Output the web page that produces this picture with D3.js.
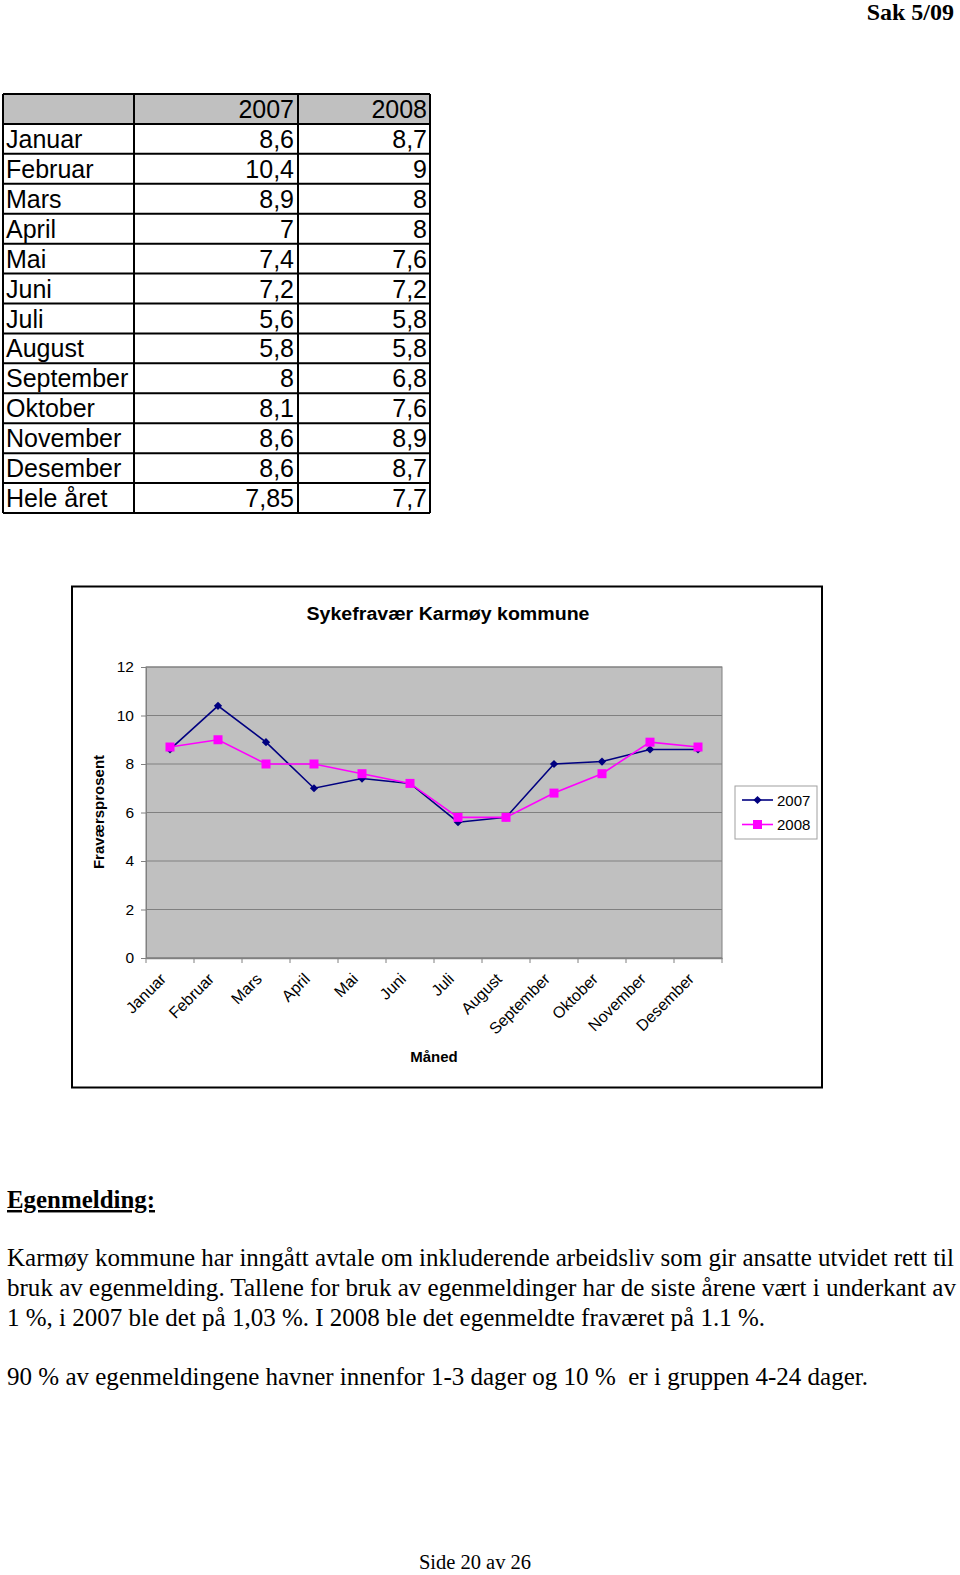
<!DOCTYPE html>
<html>
<head>
<meta charset="utf-8">
<script src="https://cdn.jsdelivr.net/npm/d3@7"></script>
<style>
  html, body { margin: 0; padding: 0; background: #fff; }
  svg { display: block; }
</style>
</head>
<body>
<script>
// ---------- DATA ----------
const months = ["Januar","Februar","Mars","April","Mai","Juni","Juli","August","September","Oktober","November","Desember"];
const values2007 = [8.6, 10.4, 8.9, 7, 7.4, 7.2, 5.6, 5.8, 8, 8.1, 8.6, 8.6];
const values2008 = [8.7, 9, 8, 8, 7.6, 7.2, 5.8, 5.8, 6.8, 7.6, 8.9, 8.7];
const annualLabel = "Hele året";
const annual2007 = 7.85;
const annual2008 = 7.7;
const seriesNames = ["2007", "2008"];
const yTicks = [0, 2, 4, 6, 8, 10, 12];

const chartTitle = "Sykefravær Karmøy kommune";
const yAxisTitle = "Fraværsprosent";
const xAxisTitle = "Måned";

const headerText = "Sak 5/09";
const sectionTitle = "Egenmelding:";
const paragraphLines = [
  "Karmøy kommune har inngått avtale om inkluderende arbeidsliv som gir ansatte utvidet rett til",
  "bruk av egenmelding. Tallene for bruk av egenmeldinger har de siste årene vært i underkant av",
  "1 %, i 2007 ble det på 1,03 %. I 2008 ble det egenmeldte fraværet på 1.1 %."
];
const paragraph2 = "90 % av egenmeldingene havner innenfor 1-3 dager og 10 %  er i gruppen 4-24 dager.";
const footerText = "Side 20 av 26";

// ---------- SETUP ----------
const W = 960, H = 1575;
const svg = d3.select("body").append("svg").attr("width", W).attr("height", H);
const sans = "'Liberation Sans', Arial, sans-serif";
const serif = "'Liberation Serif', 'Times New Roman', serif";
const fmt = v => String(v).replace(".", ",");

// ---------- HEADER ----------
svg.append("text").attr("x", 954).attr("y", 20).attr("text-anchor", "end")
  .attr("font-family", serif).attr("font-weight", "bold").attr("font-size", 24)
  .text(headerText);

// ---------- TABLE ----------
const tableRows = [{label: "", a: seriesNames[0], b: seriesNames[1], header: true}]
  .concat(months.map((m, i) => ({label: m, a: fmt(values2007[i]), b: fmt(values2008[i])})))
  .concat([{label: annualLabel, a: fmt(annual2007), b: fmt(annual2008)}]);
const colEdges = [3, 134, 298, 430];
const rowScale = d3.scaleBand().domain(d3.range(tableRows.length)).range([94, 513]);
const tg = svg.append("g");
tg.append("rect").attr("x", colEdges[0]).attr("y", rowScale(0))
  .attr("width", colEdges[3] - colEdges[0]).attr("height", rowScale.bandwidth())
  .attr("fill", "#c0c0c0");
const rowsG = tg.selectAll("g.row").data(tableRows).join("g").attr("class", "row")
  .attr("transform", (d, i) => `translate(0,${rowScale(i)})`);
rowsG.append("text").attr("x", colEdges[0] + 3).attr("y", 24)
  .attr("font-family", sans).attr("font-size", 25).text(d => d.label);
rowsG.append("text").attr("x", colEdges[2] - 4).attr("y", 24).attr("text-anchor", "end")
  .attr("font-family", sans).attr("font-size", 25).text(d => d.a);
rowsG.append("text").attr("x", colEdges[3] - 3).attr("y", 24).attr("text-anchor", "end")
  .attr("font-family", sans).attr("font-size", 25).text(d => d.b);
// grid lines
d3.range(tableRows.length + 1).forEach(i => {
  const y = i < tableRows.length ? rowScale(i) : rowScale(tableRows.length - 1) + rowScale.bandwidth();
  tg.append("line").attr("x1", colEdges[0]).attr("x2", colEdges[3]).attr("y1", y).attr("y2", y)
    .attr("stroke", "#000").attr("stroke-width", 2);
});
colEdges.forEach(x => {
  tg.append("line").attr("x1", x).attr("x2", x).attr("y1", 94).attr("y2", 513)
    .attr("stroke", "#000").attr("stroke-width", 2);
});

// ---------- CHART ----------
const box = {x: 72, y: 586.5, w: 750, h: 501};
svg.append("rect").attr("x", box.x).attr("y", box.y).attr("width", box.w).attr("height", box.h)
  .attr("fill", "#fff").attr("stroke", "#000").attr("stroke-width", 2);

svg.append("text").attr("x", 448).attr("y", 620).attr("text-anchor", "middle")
  .attr("font-family", sans).attr("font-weight", "bold").attr("font-size", 18)
  .attr("textLength", 283).attr("lengthAdjust", "spacingAndGlyphs")
  .text(chartTitle);

const plot = {left: 146, right: 722, top: 667, bottom: 958};
const x = d3.scaleBand().domain(months).range([plot.left, plot.right]);
const y = d3.scaleLinear().domain([0, 12]).range([plot.bottom, plot.top]);

const pg = svg.append("g");
pg.append("rect").attr("x", plot.left).attr("y", plot.top)
  .attr("width", plot.right - plot.left).attr("height", plot.bottom - plot.top)
  .attr("fill", "#c0c0c0").attr("stroke", "#808080").attr("stroke-width", 1);

// gridlines
pg.selectAll("line.grid").data(yTicks).join("line").attr("class", "grid")
  .attr("x1", plot.left).attr("x2", plot.right)
  .attr("y1", d => y(d)).attr("y2", d => y(d))
  .attr("stroke", "#808080").attr("stroke-width", 1);

// y axis
const yAxis = d3.axisLeft(y).tickValues(yTicks).tickSize(5).tickPadding(7);
const yg = svg.append("g").attr("transform", `translate(${plot.left},0)`).call(yAxis);
yg.select(".domain").attr("stroke", "#808080");
yg.selectAll(".tick line").attr("stroke", "#808080");
yg.selectAll(".tick text").attr("font-family", sans).attr("font-size", 15.5).attr("fill", "#000");

// x axis
const xAxis = d3.axisBottom(x).tickSize(0).tickFormat("");
const xg = svg.append("g").attr("transform", `translate(0,${plot.bottom})`).call(xAxis);
xg.select(".domain").attr("stroke", "#808080").attr("stroke-width", 1.5);
const boundaries = months.map(m => x(m)).concat([plot.right]);
xg.selectAll("line.btick").data(boundaries).join("line").attr("class", "btick")
  .attr("x1", d => d).attr("x2", d => d).attr("y1", 0).attr("y2", 5)
  .attr("stroke", "#808080");
svg.append("g").selectAll("text").data(months).join("text")
  .attr("transform", d => `translate(${x(d) + x.bandwidth() / 2 - 3},${plot.bottom + 22}) rotate(-45)`)
  .attr("text-anchor", "end")
  .attr("font-family", sans).attr("font-size", 16)
  .text(d => d);

// axis titles
svg.append("text").attr("transform", `translate(104,812) rotate(-90)`).attr("text-anchor", "middle")
  .attr("font-family", sans).attr("font-weight", "bold").attr("font-size", 15)
  .text(yAxisTitle);
svg.append("text").attr("x", 434).attr("y", 1062).attr("text-anchor", "middle")
  .attr("font-family", sans).attr("font-weight", "bold").attr("font-size", 15)
  .text(xAxisTitle);

// series
const cx = i => x(months[i]) + x.bandwidth() / 2;
const line = d3.line().x((d, i) => cx(i)).y(d => y(d));
const series = [
  {name: seriesNames[0], values: values2007, color: "#000080", shape: "diamond"},
  {name: seriesNames[1], values: values2008, color: "#ff00ff", shape: "square"}
];
const diamond = d3.symbol(d3.symbolSquare, 34);
const square = d3.symbol(d3.symbolSquare, 81);
series.forEach(s => {
  const g = svg.append("g");
  g.append("path").datum(s.values).attr("d", line)
    .attr("fill", "none").attr("stroke", s.color).attr("stroke-width", 1.6);
  g.selectAll("path.m").data(s.values).join("path").attr("class", "m")
    .attr("d", s.shape === "diamond" ? diamond : square)
    .attr("transform", (d, i) => `translate(${cx(i)},${y(d)})` + (s.shape === "diamond" ? " rotate(45)" : ""))
    .attr("fill", s.color);
});

// legend
const lg = svg.append("g");
lg.append("rect").attr("x", 735).attr("y", 786).attr("width", 82).attr("height", 53)
  .attr("fill", "#fff").attr("stroke", "#a0a0a0").attr("stroke-width", 1);
series.forEach((s, i) => {
  const ly = 800 + i * 24.5;
  lg.append("line").attr("x1", 742).attr("x2", 773).attr("y1", ly).attr("y2", ly)
    .attr("stroke", s.color).attr("stroke-width", 1.6);
  lg.append("path").attr("d", s.shape === "diamond" ? diamond : square)
    .attr("transform", `translate(757.5,${ly})` + (s.shape === "diamond" ? " rotate(45)" : ""))
    .attr("fill", s.color);
  lg.append("text").attr("x", 777).attr("y", ly + 5.5)
    .attr("font-family", sans).attr("font-size", 15).text(s.name);
});

// ---------- TEXT BELOW ----------
svg.append("text").attr("x", 7).attr("y", 1208)
  .attr("font-family", serif).attr("font-weight", "bold").attr("font-size", 24.5)
  .attr("textLength", 148).attr("lengthAdjust", "spacingAndGlyphs")
  .attr("text-decoration", "underline")
  .text(sectionTitle);
const lineLens = [947, 949, 758];
paragraphLines.forEach((t, i) => {
  svg.append("text").attr("x", 7).attr("y", 1266 + i * 30)
    .attr("font-family", serif).attr("font-size", 24.5)
    .attr("textLength", lineLens[i]).attr("lengthAdjust", "spacingAndGlyphs")
    .text(t);
});
svg.append("text").attr("x", 7).attr("y", 1385)
  .attr("font-family", serif).attr("font-size", 24.5)
  .attr("textLength", 861).attr("lengthAdjust", "spacingAndGlyphs")
  .style("white-space", "pre")
  .text(paragraph2);

svg.append("text").attr("x", 475).attr("y", 1569).attr("text-anchor", "middle")
  .attr("font-family", serif).attr("font-size", 20.5)
  .text(footerText);
</script>
</body>
</html>
